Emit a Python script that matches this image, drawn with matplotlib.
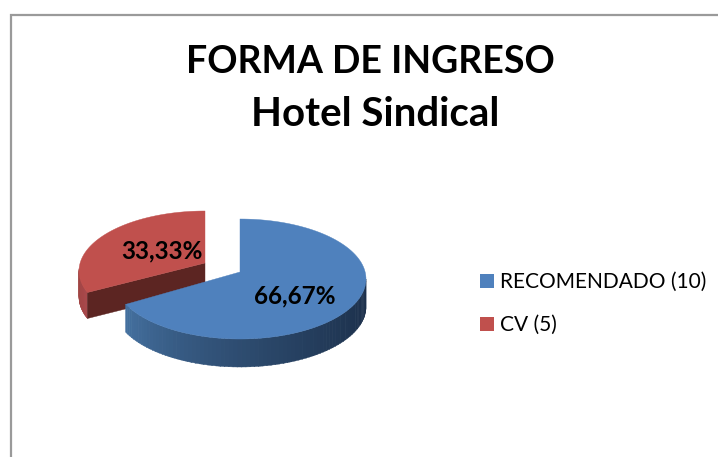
import numpy as np
import matplotlib
matplotlib.use("Agg")
import matplotlib.pyplot as plt
from matplotlib.patches import Polygon, Patch
from matplotlib.colors import to_rgb

title_lines = ["FORMA DE INGRESO", "Hotel Sindical"]
categories = ["RECOMENDADO", "CV"]
values = [10, 5]
pct_labels = ["66,67%", "33,33%"]

FONT = "Lato"
BLUE, RED = "#4F81BD", "#C0504D"
CX, CY, A, B, DEPTH, APEX_LIFT = 240, 279, 126, 60, 28, 7
EXPLODE = (-35, -8)
PERSPECTIVE = 245 / 240
RED_GAP = 4


def arc(t0, t1, off=(0, 0), drop=0, n=120):
    t = np.radians(np.linspace(t0, t1, n))
    return np.c_[CX + off[0] + A * np.sin(t), CY + off[1] + drop - B * np.cos(t)]


def lerp(c0, c1, f):
    c0, c1 = np.array(to_rgb(c0)), np.array(to_rgb(c1))
    return tuple(c0 + (c1 - c0) * f)


def side(ax, t0, t1, off, c0, c1, z, n=80, depth=DEPTH, gamma=1.0):
    edges = np.linspace(t0, t1, n + 1)
    for i in range(n):
        top = arc(edges[i], edges[i + 1] + 0.3, off, 0, 4)
        bot = arc(edges[i], edges[i + 1] + 0.3, off, depth, 4)
        col = lerp(c0, c1, (i / (n - 1)) ** gamma)
        ax.add_patch(Polygon(np.r_[top, bot[::-1]], closed=True, fc=col, ec=col, lw=0.3, zorder=z))


fig = plt.figure(figsize=(7.18, 4.57), dpi=100, facecolor="white")
ax = fig.add_axes([0, 0, 1, 1])
ax.set_xlim(0, 718)
ax.set_ylim(457, 0)
ax.axis("off")

# chart frame
ax.plot([11, 11, 718], [457, 15, 15], color="#9a9a9a", lw=1.6, solid_joinstyle="miter", zorder=1)

# slice angles from the data
total = sum(values)
blue_end = 360 * values[0] / total * PERSPECTIVE
red_start = blue_end + RED_GAP
apex = np.array([CX, CY - APEX_LIFT])
off = np.array(EXPLODE)

# red (exploded) slice
r_apex = apex + off + [0, -1]
r_top = arc(red_start, 360, EXPLODE)
side(ax, red_start, 272, EXPLODE, "#A8474A", "#A04543", 2, n=30, depth=26)
inner = np.array([r_apex, r_top[0], r_top[0] + [0, 26], r_apex + [0, 26]])
ax.add_patch(Polygon(inner, closed=True, fc="#5C2522", ec="#5C2522", lw=0.3, zorder=3))
ax.add_patch(Polygon(np.r_[[r_apex], r_top], closed=True, fc=RED, ec=RED, lw=0.3, zorder=4))

# blue slice
side(ax, 90, blue_end, (0, 0), "#1C304B", "#44709F", 5, gamma=1.5)
b_top = arc(0, blue_end)
ax.add_patch(Polygon(np.r_[[apex], b_top], closed=True, fc=BLUE, ec=BLUE, lw=0.3, zorder=6))

# labels
ax.text(295, 296, pct_labels[0], family=FONT, weight="bold", fontsize=17.5, ha="center", va="center", color="black", zorder=7)
ax.text(162, 251, pct_labels[1], family=FONT, weight="bold", fontsize=17.5, ha="center", va="center", color="black", zorder=7)

# title
ax.text(370, 62, title_lines[0], family=FONT, weight="bold", fontsize=27, ha="center", va="center", color="black")
ax.text(375, 115, title_lines[1], family=FONT, weight="bold", fontsize=29, ha="center", va="center", color="black")

# legend
handles = [Patch(fc=BLUE, ec="none"), Patch(fc=RED, ec="none")]
labels = [f"{c} ({v})" for c, v in zip(categories, values)]
ax.legend(handles, labels, loc="upper left", bbox_to_anchor=(474 / 718, 1 - 266 / 457), frameon=False,
          prop={"family": FONT, "size": 15}, handlelength=0.68, handleheight=0.68, handletextpad=0.29,
          labelspacing=1.1, borderpad=0.3, borderaxespad=0)

fig.savefig("out.png", dpi=100, facecolor="white")
